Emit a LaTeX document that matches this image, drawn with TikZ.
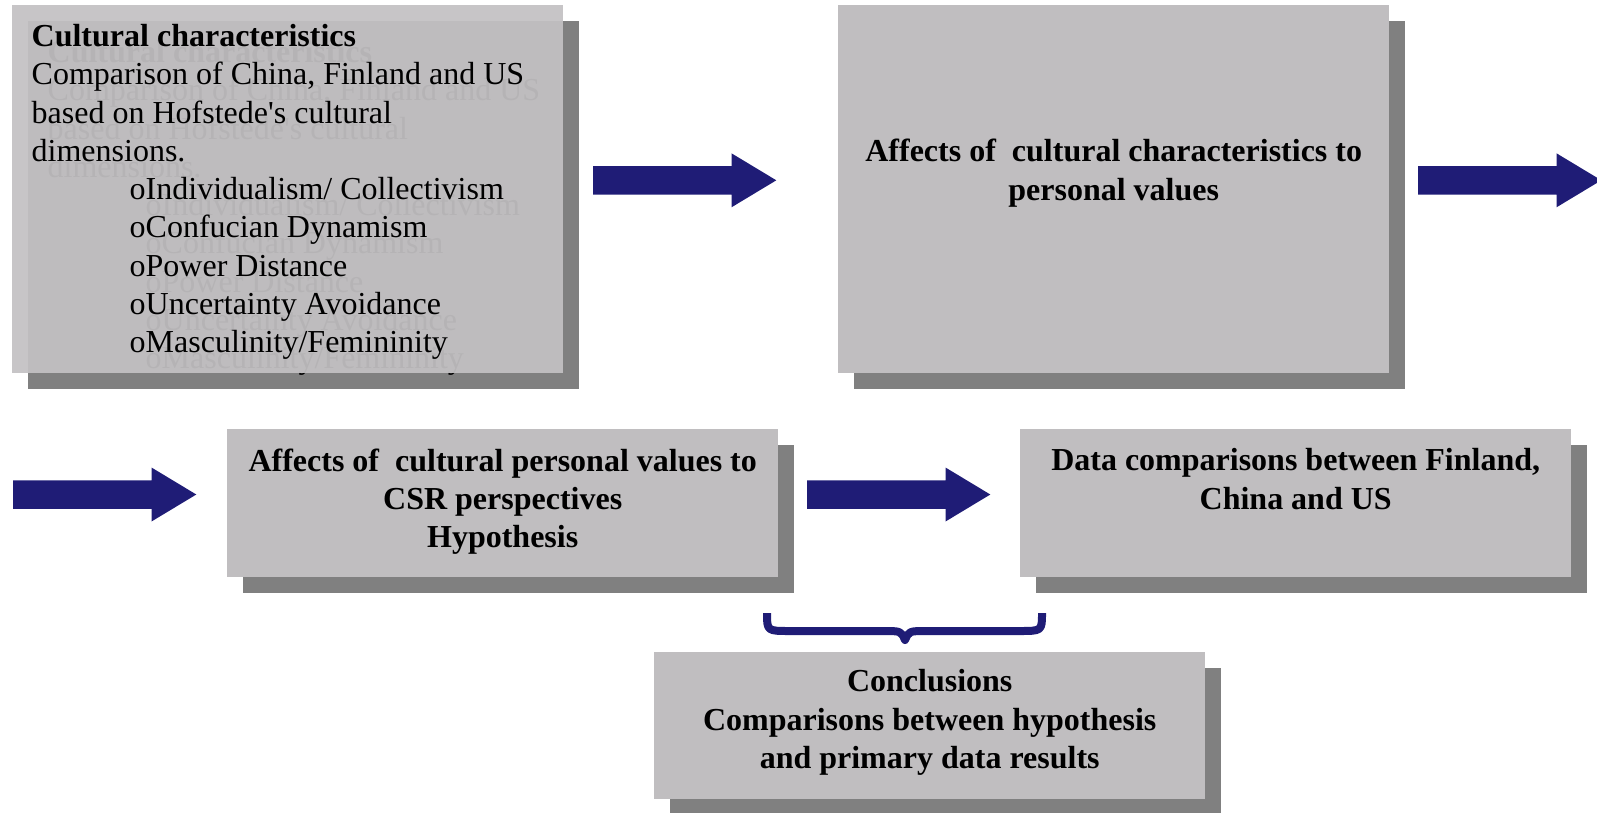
\documentclass[tikz,border=0pt]{standalone}
\usepackage{fontspec}
\setmainfont{Liberation Serif}
\usetikzlibrary{positioning,shadows}

\definecolor{boxgray}{RGB}{192,190,192}
\definecolor{frontgray}{RGB}{195,193,195}
\definecolor{shadowgray}{RGB}{128,128,128}
\definecolor{navy}{RGB}{31,28,118}

\newcommand{\itemgap}{\hspace*{98pt}o}

\begin{document}
\begin{tikzpicture}[x=1pt, y=-1pt,
	box/.style={ rectangle, fill=boxgray, anchor=north west, inner sep=0pt, minimum width=551pt, minimum height=148pt,
		drop shadow={shadow xshift=16pt, shadow yshift=-16pt, fill=shadowgray, opacity=1} },
	tallbox/.style={ box, minimum height=368pt },
	shade/.style={ rectangle, fill=shadowgray, anchor=north west, inner sep=0pt, minimum width=551pt, minimum height=368pt },
	boxtext/.style={ anchor=north, inner sep=0pt, align=center, font=\fontsize{32}{38.3}\selectfont\bfseries },
	listtext/.style={ anchor=north west, inner sep=0pt, align=left, font=\fontsize{32}{38.3}\selectfont },
	blockarrow/.style={ fill=navy },
	brace/.style={ draw=navy, line width=8pt, line join=round }
]
\useasboundingbox (0,0) rectangle (1597,812);

% first box, seen through
\node at (28,21) (culturalshade) [shade] {};
\node at (47.5,40) (culturalghost) [listtext] {\textbf{Cultural characteristics}\\
	Comparison of China, Finland and US\\ based on Hofstede\textquotesingle s cultural\\ dimensions.\\
	\itemgap Individualism/ Collectivism\\ \itemgap Confucian Dynamism\\ \itemgap Power Distance\\
	\itemgap Uncertainty Avoidance\\ \itemgap Masculinity/Femininity};
\node at (12,5) (cultural) [shade, fill=frontgray, fill opacity=0.93] {};
\node at (31.5,24) (culturaltext) [listtext] {\textbf{Cultural characteristics}\\
	Comparison of China, Finland and US\\ based on Hofstede\textquotesingle s cultural\\ dimensions.\\
	\itemgap Individualism/ Collectivism\\ \itemgap Confucian Dynamism\\ \itemgap Power Distance\\
	\itemgap Uncertainty Avoidance\\ \itemgap Masculinity/Femininity};

\node at (838,5) (values) [tallbox] {};
\node [boxtext, below=134pt of values.north] (valuestext) {Affects of~\ cultural characteristics to\\ personal values};

\node at (227,429) (csr) [box] {};
\node [boxtext, below=19.5pt of csr.north] (csrtext) {Affects of~\ cultural personal values to\\ CSR perspectives\\ Hypothesis};

\node at (1020,429) (data) [box] {};
\node [boxtext, below=19.5pt of data.north] (datatext) {Data comparisons between Finland,\\ China and US};

\node at (654,652) (conclusions) [box, minimum height=147pt] {};
\node [boxtext, below=17.5pt of conclusions.north] (conclusionstext) {Conclusions\\ Comparisons between hypothesis\\ and primary data results};

\foreach \tailx/\midy in {593/180.3, 1418/180.3, 13/494.5, 807/494.5}
	\fill[blockarrow] (\tailx,\midy-14.25) -- ++(138.5,0) -- ++(0,-12.75) -- ++(44.8,27) -- ++(-44.8,27) -- ++(0,-12.75) -- ++(-138.5,0) -- cycle;

\draw[brace] (767,613) .. controls (767,631) .. (790,631) -- (883,631) .. controls (901,631) .. (905,640)
	.. controls (909,631) .. (927,631) -- (1019,631) .. controls (1042,631) .. (1042,613);

\end{tikzpicture}
\end{document}
